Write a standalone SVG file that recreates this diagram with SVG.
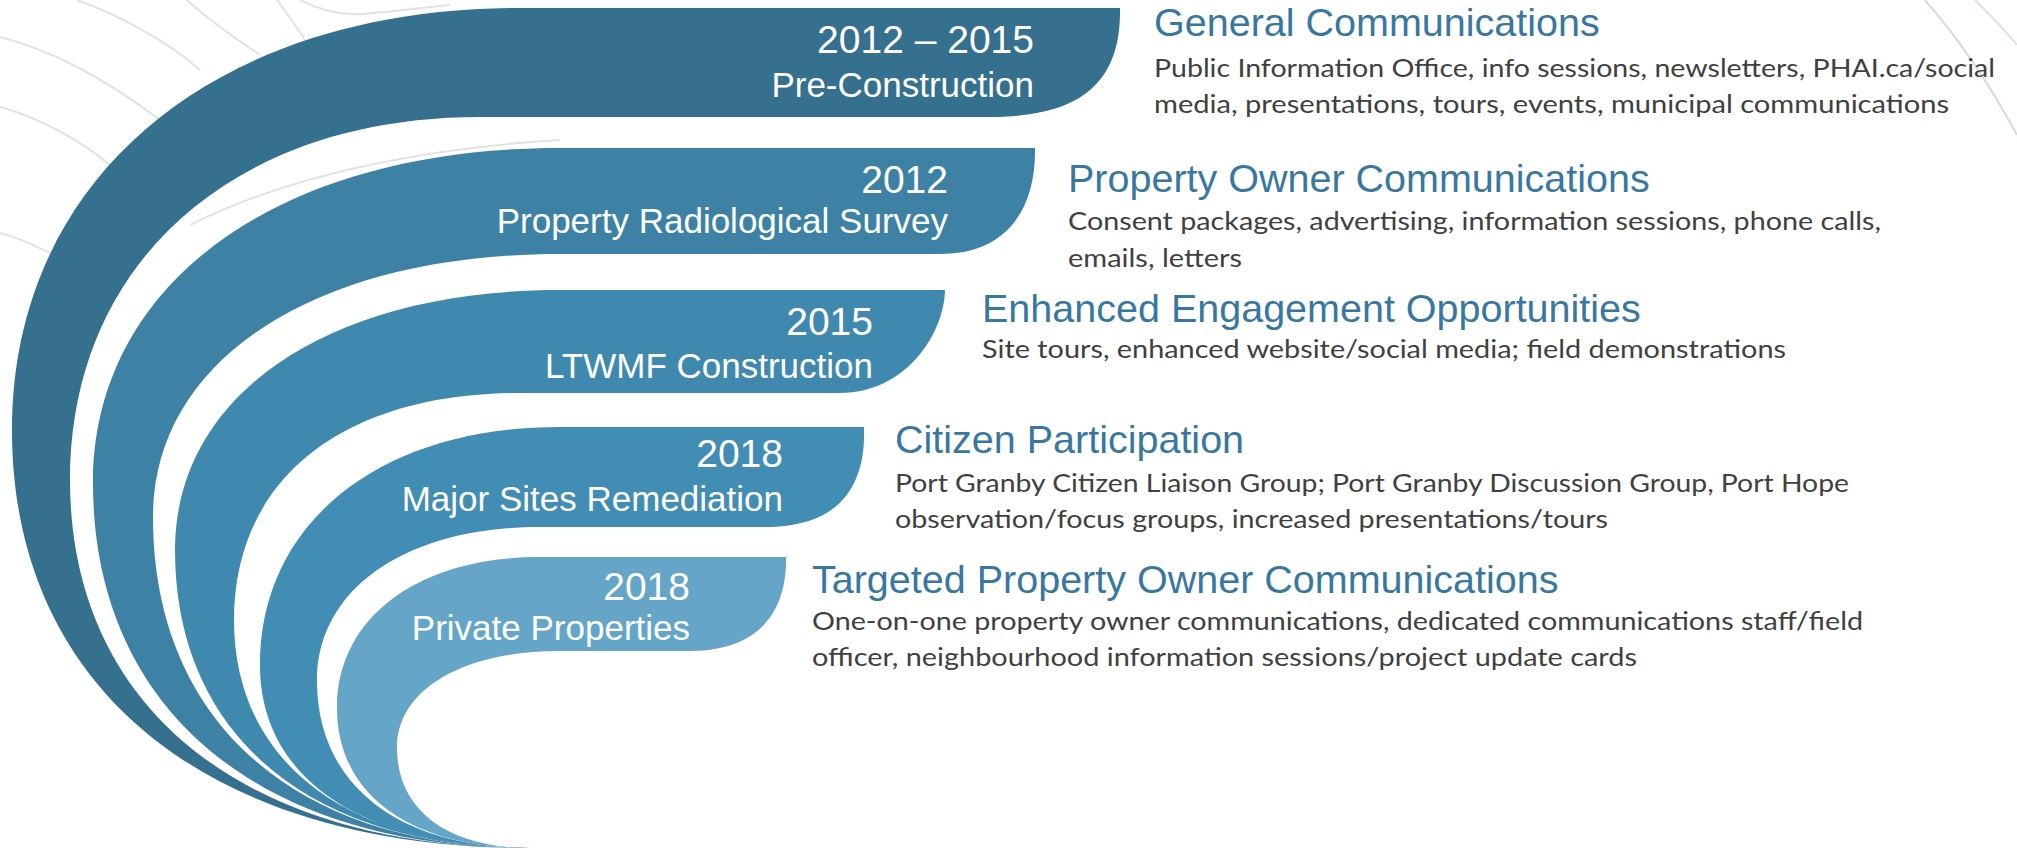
<svg xmlns="http://www.w3.org/2000/svg" width="2017" height="848" viewBox="0 0 2017 848">
<style>
.bg{fill:none;stroke:#dfe4df;stroke-width:2}
.yr{font-family:"Liberation Sans",Arial,sans-serif;font-size:39px;fill:#ffffff;text-anchor:end}
.sub{font-family:"Liberation Sans",Arial,sans-serif;font-size:35px;fill:#ffffff;text-anchor:end}
.ttl{font-family:"Liberation Sans",Arial,sans-serif;font-size:39.5px;fill:#3878a0}
.dsc{font-family:Lato,"Open Sans",sans-serif;font-size:25px;fill:#404040}
</style>
<rect width="2017" height="848" fill="#ffffff"/>
<g id="background">
<path class="bg" d="M0,37 C50,50 100,75 160,120"/>
<path class="bg" d="M0,107 C40,118 80,140 110,165"/>
<path class="bg" d="M0,233 C20,238 40,248 60,258"/>
<path class="bg" d="M77,0 C110,12 160,35 200,70"/>
<path class="bg" d="M187,0 C200,12 230,35 260,55"/>
<path class="bg" d="M277,0 C285,10 295,25 305,40"/>
<path class="bg" d="M300,0 C320,10 340,15 360,14 C390,12 420,8 450,5"/>
<path class="bg" d="M190,225 C280,180 400,150 560,140"/>
<path class="bg" d="M1925,0 C1960,40 1990,85 2017,135" style="stroke:#cfe0d3"/>
<path class="bg" d="M1975,0 C1990,15 2005,30 2017,45" style="stroke:#d8e6da"/>
</g>
<g id="band1">
<path fill="#35708f" d="M1120,8 L520,8 C215.2,8 12,176.8 12,430 C12,689.2 208.8,848 530,848 C244.8,848 70,708.2 70,480 C70,262.2 234,117 480,117 L990,117 C1090,117 1121,75 1120,8 Z"/>
<text class="yr" x="1034" y="53">2012 – 2015</text>
<text class="sub" x="1034" y="97">Pre-Construction</text>
</g>
<g id="band2">
<path fill="#3d82a5" d="M1035,148 L560,148 C279.8,148 93,282 93,483 C93,709.3 259.1,848 530,848 C296.3,848 153,722.2 153,517 C153,359.2 315.8,254 560,254 L940,254 C1010,254 1036,205 1035,148 Z"/>
<text class="yr" x="948" y="193">2012</text>
<text class="sub" x="948" y="233">Property Radiological Survey</text>
</g>
<g id="band3">
<path fill="#3f89ae" d="M945,290 L560,290 C329,290 175,394 175,550 C175,734.8 309.9,848 530,848 C346.5,848 234,761.4 234,620 C234,479.3 342.7,393 520,393 L840,393 C905,393 944,335 945,290 Z"/>
<text class="yr" x="873" y="335">2015</text>
<text class="sub" x="873" y="378">LTWMF Construction</text>
</g>
<g id="band4">
<path fill="#418db3" d="M864,427 L560,427 C380,427 260,522.2 260,665 C260,778.5 362.6,848 530,848 C397.9,848 317,784.5 317,681 C317,588.6 406.2,527 540,527 L765,527 C845,527 866,480 864,427 Z"/>
<text class="yr" x="783" y="467">2018</text>
<text class="sub" x="783" y="511">Major Sites Remediation</text>
</g>
<g id="band5">
<path fill="#65a6c8" d="M786,557 L540,557 C418.2,557 337,617.4 337,708 C337,794.8 410.3,848 530,848 C447.5,848 397,810 397,748 C397,689.8 462.2,651 560,651 L690,651 C765,651 787,605 786,557 Z"/>
<text class="yr" x="690" y="600">2018</text>
<text class="sub" x="690" y="640">Private Properties</text>
</g>
<g id="info1">
<text class="ttl" x="1154" y="36">General Communications</text>
<text class="dsc" x="1154" y="77" textLength="841" lengthAdjust="spacingAndGlyphs">Public Information Office, info sessions, newsletters, PHAI.ca/social</text>
<text class="dsc" x="1154" y="113" textLength="795" lengthAdjust="spacingAndGlyphs">media, presentations, tours, events, municipal communications</text>
</g>
<g id="info2">
<text class="ttl" x="1068" y="192">Property Owner Communications</text>
<text class="dsc" x="1068" y="230" textLength="813" lengthAdjust="spacingAndGlyphs">Consent packages, advertising, information sessions, phone calls,</text>
<text class="dsc" x="1068" y="267" textLength="174" lengthAdjust="spacingAndGlyphs">emails, letters</text>
</g>
<g id="info3">
<text class="ttl" x="982" y="322">Enhanced Engagement Opportunities</text>
<text class="dsc" x="982" y="358" textLength="804" lengthAdjust="spacingAndGlyphs">Site tours, enhanced website/social media; field demonstrations</text>
</g>
<g id="info4">
<text class="ttl" x="895" y="453">Citizen Participation</text>
<text class="dsc" x="895" y="492" textLength="954" lengthAdjust="spacingAndGlyphs">Port Granby Citizen Liaison Group; Port Granby Discussion Group, Port Hope</text>
<text class="dsc" x="895" y="528" textLength="713" lengthAdjust="spacingAndGlyphs">observation/focus groups, increased presentations/tours</text>
</g>
<g id="info5">
<text class="ttl" x="812" y="593">Targeted Property Owner Communications</text>
<text class="dsc" x="812" y="630" textLength="1051" lengthAdjust="spacingAndGlyphs">One-on-one property owner communications, dedicated communications staff/field</text>
<text class="dsc" x="812" y="666" textLength="825" lengthAdjust="spacingAndGlyphs">officer, neighbourhood information sessions/project update cards</text>
</g>
</svg>
